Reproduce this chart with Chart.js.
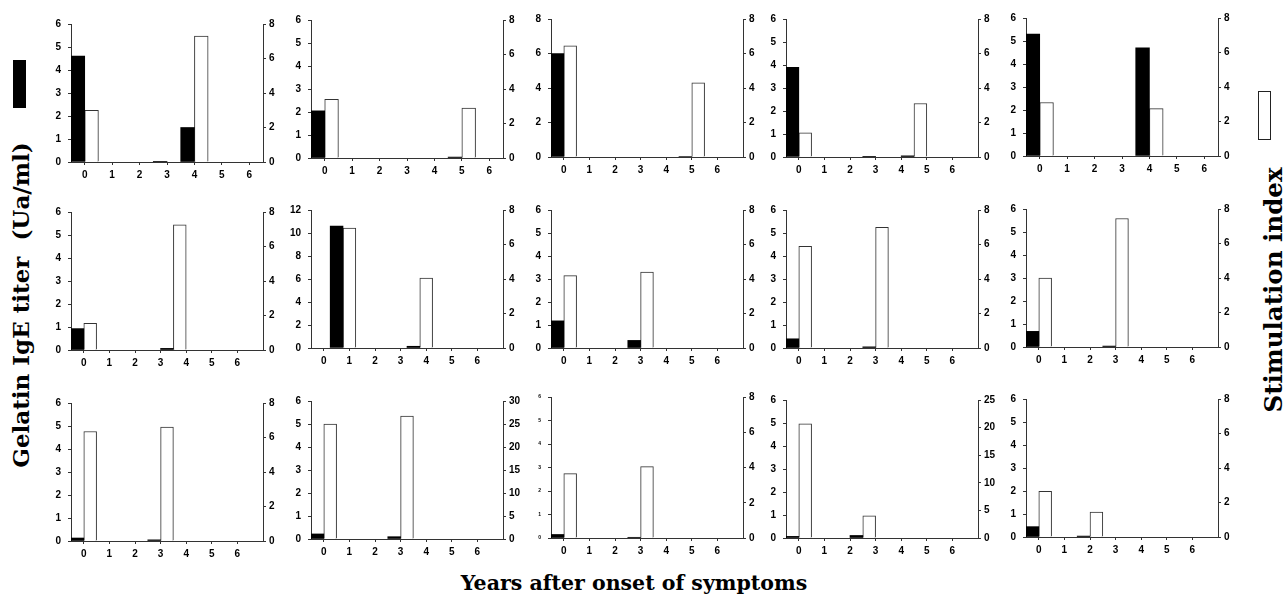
<!DOCTYPE html>
<html>
<head>
<meta charset="utf-8">
<script src="https://cdn.jsdelivr.net/npm/chart.js@4"></script>
<style>
    body { margin: 0; background: #fff; width: 1286px; height: 606px; position: relative; overflow: hidden; }
    .panel { position: absolute; }
    .title { position: absolute; font-family: "DejaVu Serif", serif; font-weight: bold; white-space: nowrap; color: #000; }
    .vt { transform: translate(-50%, -50%) rotate(-90deg); font-size: 23px; }
    .key { position: absolute; box-sizing: border-box; }
</style>
</head>
<body>
<div class="title vt" style="left:20px; top:305px;">Gelatin IgE titer&nbsp; (Ua/ml)</div>
<div class="title vt" style="left:1273px; top:290px; font-size:24.5px;">Stimulation index</div>
<div class="title" style="left:634px; top:571px; font-size:20.5px; transform:translateX(-50%);">Years after onset of symptoms</div>
<div class="key" style="left:13px; top:60px; width:13px; height:48px; background:#000;"></div>
<div class="key" style="left:1258px; top:91px; width:13px; height:49px; border:1px solid #222; background:#fff;"></div>

<script>
// Datos por panel (15 pacientes): años de muestreo, IgE (barra negra), índice de estimulación (barra blanca)
const years = [
    [0, 3, 4], [0, 5], [0, 5], [0, 3, 4.5], [0, 4],
    [0, 3.5], [0.75, 3.75], [0, 3], [0, 3], [0, 3],
    [0, 3], [0, 3], [0, 3], [0, 2.5], [0, 2]
];
const igeTiter = [
    [4.6, 0.03, 1.5], [2.05, 0.04], [6.0, 0.03], [3.9, 0.03, 0.05], [5.3, 4.7],
    [0.93, 0.07], [10.6, 0.15], [1.18, 0.33], [0.4, 0.05], [0.68, 0.04],
    [0.13, 0.05], [0.22, 0.1], [0.15, 0.03], [0.07, 0.11], [0.45, 0.04]
];
const stimIndex = [
    [3.0, null, 7.3], [3.4, 2.9], [6.45, 4.3], [1.4, null, 3.1], [3.1, 2.75],
    [1.55, 7.25], [6.95, 4.05], [4.2, 4.4], [5.9, 7.0], [4.0, 7.45],
    [6.35, 6.6], [25, 26.7], [3.65, 4.05], [20.7, 4.0], [2.65, 1.45]
];
const igeMax  = [6, 6, 8, 6, 6,  6, 12, 6, 6, 6,  6, 6, 6, 6, 6];
const igeStep = [1, 1, 2, 1, 1,  1, 2, 1, 1, 1,  1, 1, 1, 1, 1];
const siMax   = [8, 8, 8, 8, 8,  8, 8, 8, 8, 8,  8, 30, 8, 25, 8];
const siStep  = [2, 2, 2, 2, 2,  2, 2, 2, 2, 2,  2, 5, 2, 5, 2];
const yearMax = [6.5, 6.5, 7, 7, 6.5,  7, 7, 7, 7, 7,  7, 7, 7, 7, 7];
const yearTicks = [0, 1, 2, 3, 4, 5, 6];

// Layout de la grilla
const plotLeft = [71, 311, 551, 786, 1026];
const plotTop = [[19, 15, 14, 14, 13], [207, 205, 205, 205, 204], [398, 396, 395, 395, 394]];
const plotW = 192, plotH = 143, axisW = 26, xAxisH = 24, padTop = 8;
const tickFont = { family: '"Liberation Sans", Arial, sans-serif', size: 10, weight: 'bold' };

years.forEach((yrs, i) => {
    const r = Math.floor(i / 5), c = i % 5;
    const cv = document.createElement('canvas');
    cv.className = 'panel';
    cv.width = plotW + axisW * 2;
    cv.height = padTop + plotH + xAxisH;
    cv.style.left = (plotLeft[c] - axisW) + 'px';
    cv.style.top = (plotTop[r][c] - padTop) + 'px';
    document.body.appendChild(cv);

    // el panel 13 tiene los números del eje izquierdo casi ilegibles
    const leftFont = i === 12 ? { ...tickFont, size: 5 } : tickFont;

    new Chart(cv.getContext('2d'), {
        type: 'bar',
        data: {
            datasets: [{
                label: 'IgE',
                data: yrs.map((t, k) => ({ x: t - 0.25, y: igeTiter[i][k] })),
                backgroundColor: '#000',
                borderWidth: 0,
                yAxisID: 'y'
            }, {
                label: 'SI',
                data: yrs.map((t, k) => ({ x: t + 0.25, y: stimIndex[i][k] })),
                backgroundColor: '#fff',
                borderColor: '#333',
                borderWidth: 1,
                yAxisID: 'y1'
            }]
        },
        options: {
            responsive: false,
            animation: false,
            events: [],
            layout: { padding: { top: padTop, left: 0, right: 0, bottom: 0 } },
            datasets: { bar: { grouped: false, barPercentage: 1, categoryPercentage: 1 } },
            plugins: { legend: { display: false }, tooltip: { enabled: false } },
            scales: {
                x: {
                    type: 'linear', min: -0.5, max: yearMax[i], offset: false,
                    afterBuildTicks: s => { s.ticks = yearTicks.map(v => ({ value: v })); },
                    afterFit: s => { s.height = xAxisH; },
                    grid: { drawOnChartArea: false, offset: false, tickLength: 3, color: '#333' },
                    border: { color: '#333' },
                    ticks: { font: tickFont, color: '#000', padding: 4, maxRotation: 0, autoSkip: false }
                },
                y: {
                    position: 'left', min: 0, max: igeMax[i],
                    afterFit: s => { s.width = axisW; },
                    grid: { drawOnChartArea: false, tickLength: 3, color: '#333' },
                    border: { color: '#333' },
                    ticks: { stepSize: igeStep[i], font: leftFont, color: '#000', padding: 7 }
                },
                y1: {
                    position: 'right', min: 0, max: siMax[i],
                    afterFit: s => { s.width = axisW; },
                    grid: { drawOnChartArea: false, tickLength: 3, color: '#333' },
                    border: { color: '#333' },
                    ticks: { stepSize: siStep[i], font: tickFont, color: '#000', padding: 3 }
                }
            }
        }
    });
});
</script>
</body>
</html>
